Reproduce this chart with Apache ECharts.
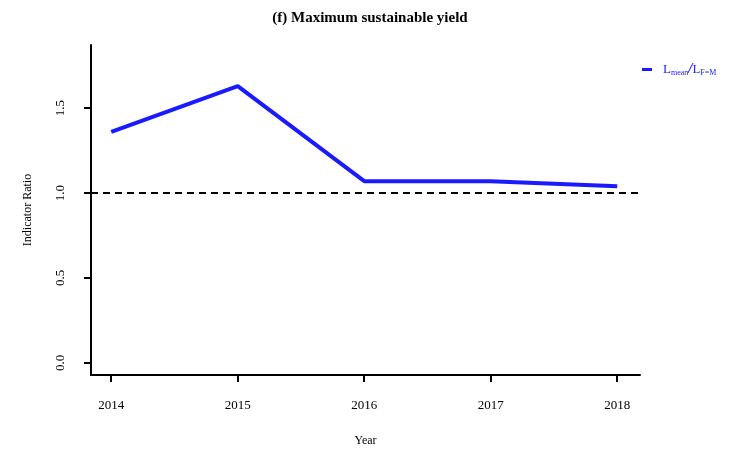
<!DOCTYPE html>
<html>
<head>
<meta charset="utf-8">
<script src="https://cdn.jsdelivr.net/npm/echarts@6/dist/echarts.min.js"></script>
<style>
  html, body { margin: 0; padding: 0; background: #fff; }
  #chart { width: 739px; height: 452px; }
</style>
</head>
<body>
<div id="chart"></div>
<script>
var years = [2014, 2015, 2016, 2017, 2018];
var ratio = [1.36, 1.63, 1.07, 1.07, 1.04];
var yTicks = [0, 0.5, 1.0, 1.5];
var refLevel = 1.0;

var serif = 'Liberation Serif';
var chart = echarts.init(document.getElementById('chart'));

var option = {
    backgroundColor: '#ffffff',
    animation: false,
    title: {
        text: '(f) Maximum sustainable yield',
        left: 365,
        textAlign: 'center',
        top: 6,
        textStyle: { fontFamily: serif, fontSize: 15, fontWeight: 'bold', color: '#000' }
    },
    legend: {
        left: 637,
        top: 57,
        itemWidth: 10,
        itemHeight: 3,
        itemGap: 0,
        icon: 'rect',
        data: ['ratio'],
        formatter: function () {
            return '{a|L}{s|mean}{b|/}{a|L}{s|F=M}';
        },
        textStyle: {
            fontFamily: serif,
            color: '#2020ff',
            padding: [0, 0, 0, 6],
            rich: {
                a: { fontFamily: serif, fontSize: 13, color: '#2020ff' },
                b: { fontFamily: serif, fontSize: 15, fontStyle: 'italic', fontWeight: 'bold', color: '#2020ff' },
                s: { fontFamily: serif, fontSize: 8, color: '#2020ff', padding: [7, 0, 0, 0] }
            }
        }
    },
    grid: { left: 91, right: 99, top: 45, bottom: 77 },
    xAxis: {
        type: 'value',
        min: 2013.84,
        max: 2018.18,
        name: 'Year',
        nameLocation: 'middle',
        nameGap: 60,
        nameTextStyle: { fontFamily: serif, fontSize: 12, color: '#000' },
        splitLine: { show: false },
        axisLine: { onZero: false, lineStyle: { color: '#000', width: 2 } },
        axisTick: { customValues: years, length: 7, lineStyle: { color: '#000', width: 2 } },
        axisLabel: {
            customValues: years,
            margin: 24,
            fontFamily: serif,
            fontSize: 13,
            color: '#000',
            formatter: function (v) { return String(v); }
        }
    },
    yAxis: {
        type: 'value',
        min: -0.072,
        max: 1.872,
        name: 'Indicator Ratio',
        nameLocation: 'middle',
        nameGap: 57,
        nameRotate: 90,
        nameTextStyle: { fontFamily: serif, fontSize: 12, color: '#000' },
        splitLine: { show: false },
        axisLine: { show: true, onZero: false, lineStyle: { color: '#000', width: 2 } },
        axisTick: { show: true, customValues: yTicks, length: 7, lineStyle: { color: '#000', width: 2 } },
        axisLabel: {
            customValues: yTicks,
            rotate: 90,
            margin: 24,
            fontFamily: serif,
            fontSize: 13,
            color: '#000',
            formatter: function (v) { return v.toFixed(1); }
        }
    },
    series: [{
        name: 'ratio',
        type: 'line',
        data: years.map(function (y, i) { return [y, ratio[i]]; }),
        symbol: 'none',
        lineStyle: { color: '#1a1aff', width: 4 },
        itemStyle: { color: '#1a1aff' },
        markLine: {
            silent: true,
            symbol: 'none',
            label: { show: false },
            lineStyle: { color: '#000', type: [7, 5], width: 2 },
            data: [{ yAxis: refLevel }]
        }
    }]
};

chart.setOption(option);
</script>
</body>
</html>
